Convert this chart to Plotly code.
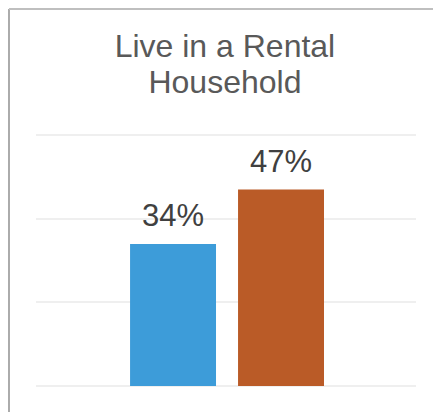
import plotly.graph_objects as go

# values
groups = ["Group A", "Group B"]
values = [34, 47]
colors = ["#3D9CD9", "#BA5B27"]
y_ticks = [0, 20, 40, 60]
title_lines = ["Live in a Rental", "Household"]

fig = go.Figure(go.Bar(
    x=groups, y=values,
    marker=dict(color=colors, line=dict(width=0)),
    hoverinfo="x+y",
))

# value labels above the bars
for g, v in zip(groups, values):
    fig.add_annotation(
        x=g, y=v, text=f"{v}%", showarrow=False,
        yanchor="bottom", yshift=9,
        font=dict(size=31, color="#404040"),
    )

title_html = "<br>".join(
    f'<span style="font-size:32px">{t}</span>' for t in title_lines)

fig.update_layout(
    width=433, height=404,
    margin=dict(l=28, r=25, t=126, b=26),
    paper_bgcolor="white", plot_bgcolor="white",
    font=dict(family="Arial, Liberation Sans, sans-serif"),
    showlegend=False,
    bargap=0.204,
    title=dict(text=title_html, x=0.501, xanchor="center",
               y=0.8787, yanchor="top", yref="container",
               font=dict(size=27.7, color="#595959")),
    xaxis=dict(visible=False, range=[-1.269, 2.25]),
    yaxis=dict(range=[0, 60.3], tickvals=y_ticks, showticklabels=False,
               showgrid=True, gridcolor="#EFEFEF", gridwidth=1.5,
               zeroline=True, zerolinecolor="#EFEFEF", zerolinewidth=1.5),
    shapes=[
        dict(type="line", xref="paper", yref="paper", x0=-0.0711, x1=-0.0711,
             y0=-0.2, y1=1.496, line=dict(color="#ABABAB", width=2)),
        dict(type="line", xref="paper", yref="paper", x0=-0.0711, x1=1.2,
             y0=1.496, y1=1.496, line=dict(color="#BFBFBF", width=2)),
    ],
)

fig.write_html("out.html")
